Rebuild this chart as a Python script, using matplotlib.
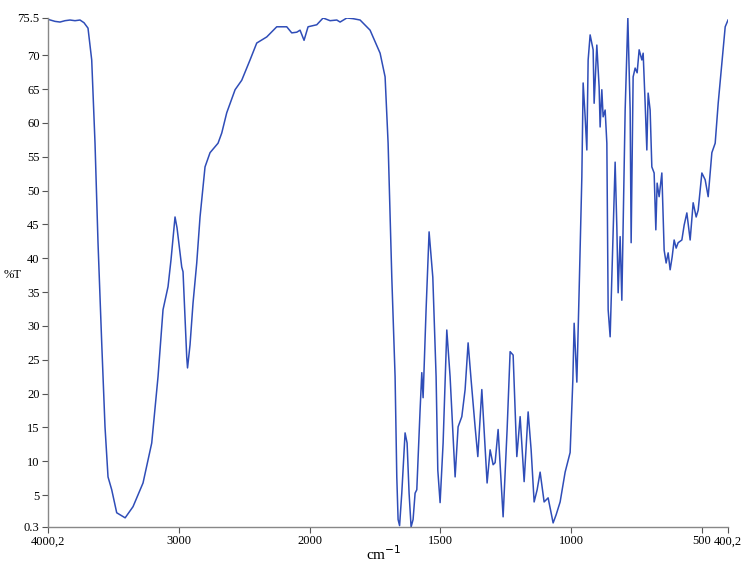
import matplotlib
matplotlib.use("Agg")
import matplotlib.pyplot as plt
import numpy as np

# espectro IR (numero de onda en cm-1, %T)
wavenumber = [4000.2, 3946.7, 3908.4, 3870.2, 3831.9, 3793.7, 3755.5, 3724.9, 3694.3, 3666.0,
              3640.7, 3617.8, 3589.5, 3564.3, 3541.3, 3513.0, 3474.8, 3410.3, 3350.1, 3273.6,
              3207.1, 3158.9, 3120.7, 3082.4, 3059.5, 3028.9, 3013.6, 2977.6, 2967.7, 2939.4,
              2933.3, 2914.2, 2891.2, 2862.9, 2837.7, 2799.5, 2761.2, 2700.0, 2671.7, 2633.5,
              2569.7, 2518.8, 2455.3, 2404.1, 2327.6, 2251.1, 2174.6, 2136.5, 2098.0, 2072.9,
              2042.3, 2011.7, 1972.5, 1948.4, 1921.6, 1896.0, 1883.4, 1857.7, 1833.7, 1806.9,
              1768.7, 1730.4, 1711.3, 1699.8, 1685.7, 1673.1, 1666.6, 1661.6, 1655.9, 1647.5,
              1634.9, 1627.2, 1619.6, 1611.9, 1604.3, 1596.6, 1590.1, 1577.5, 1571.0, 1566.0,
              1554.6, 1543.1, 1528.9, 1516.3, 1509.8, 1501.0, 1489.5, 1475.4, 1462.8, 1443.6,
              1432.2, 1418.0, 1405.4, 1393.9, 1382.4, 1367.2, 1356.8, 1341.5, 1332.7, 1321.3,
              1309.8, 1298.3, 1290.7, 1279.2, 1260.1, 1244.8, 1233.3, 1221.8, 1207.7, 1195.0,
              1179.7, 1164.4, 1153.0, 1141.5, 1130.0, 1118.6, 1103.3, 1088.0, 1068.9, 1057.4,
              1042.1, 1023.0, 1003.9, 993.5, 988.5, 978.2, 969.4, 959.1, 954.1, 946.5,
              940.0, 935.0, 927.4, 915.9, 912.1, 901.8, 893.0, 889.2, 882.7, 877.7,
              870.0, 863.5, 858.5, 850.9, 840.6, 831.8, 825.3, 820.3, 812.7, 806.2,
              793.5, 783.2, 774.4, 770.6, 763.0, 755.3, 747.7, 740.0, 729.7, 724.7,
              717.1, 710.6, 705.6, 698.0, 691.5, 682.7, 676.2, 671.2, 663.6, 653.2,
              644.4, 636.8, 629.1, 621.5, 613.8, 606.2, 598.5, 590.9, 576.7, 567.9,
              557.6, 545.0, 533.5, 522.0, 514.4, 500.2, 487.6, 476.1, 462.0, 449.3,
              437.8, 423.7, 411.0, 400.2]
transmittance = [75.3, 75.0, 74.9, 75.1, 75.2, 75.1, 75.2, 74.8, 74.0, 69.3,
                 57.0, 42.3, 27.5, 15.1, 7.7, 5.8, 2.4, 1.65, 3.3, 6.8,
                 12.7, 22.5, 32.4, 35.8, 39.8, 46.1, 44.5, 38.7, 38.0, 25.4,
                 23.8, 27.2, 33.4, 39.3, 46.1, 53.5, 55.6, 57.0, 58.5, 61.5,
                 64.9, 66.3, 69.3, 71.8, 72.7, 74.2, 74.2, 73.3, 73.4, 73.7,
                 72.2, 74.2, 74.5, 75.5, 75.1, 75.2, 74.9, 75.5, 75.4, 75.2,
                 73.7, 70.3, 66.8, 57.0, 37.2, 22.5, 7.7, 1.4, 0.5, 5.3,
                 14.2, 12.7, 5.3, 0.3, 1.4, 5.3, 5.8, 17.6, 23.1, 19.4,
                 32.4, 43.9, 37.2, 22.5, 8.7, 3.9, 12.7, 29.4, 22.5, 7.7,
                 15.1, 16.6, 20.6, 27.5, 22.0, 15.1, 10.7, 20.6, 14.7, 6.8,
                 11.7, 9.5, 9.8, 14.7, 1.8, 14.7, 26.2, 25.7, 10.7, 16.6,
                 7.0, 17.3, 11.7, 4.0, 5.8, 8.4, 4.0, 4.6, 0.9, 2.1,
                 4.0, 8.4, 11.3, 22.0, 30.4, 21.7, 35.3, 52.0, 65.9, 60.9,
                 56.0, 69.3, 73.0, 70.8, 62.9, 71.5, 65.3, 59.4, 64.9, 60.9,
                 61.9, 57.0, 32.4, 28.4, 42.3, 54.2, 44.6, 34.9, 43.2, 33.8,
                 61.9, 75.5, 61.9, 42.3, 66.8, 68.1, 67.4, 70.8, 69.3, 70.3,
                 62.9, 56.0, 64.4, 61.9, 53.5, 52.6, 44.2, 51.1, 49.1, 52.6,
                 41.2, 39.3, 40.8, 38.3, 40.2, 42.7, 41.5, 42.3, 42.7, 44.9,
                 46.7, 42.7, 48.2, 46.1, 47.1, 52.6, 51.6, 49.1, 55.6, 57.0,
                 62.9, 68.9, 74.2, 75.2]

xticks = [4000.2, 3000, 2000, 1500, 1000, 500, 400.2]
xticklabels = ["4000,2", "3000", "2000", "1500", "1000", "500", "400,2"]
yticks = [0.3, 5, 10, 15, 20, 25, 30, 35, 40, 45, 50, 55, 60, 65, 70, 75.5]
yticklabels = ["0.3", "5", "10", "15", "20", "25", "30", "35", "40", "45",
               "50", "55", "60", "65", "70", "75.5"]


# escala del eje x: por encima de 2000 cm-1 va comprimida a la mitad
def adelante(w):
    w = np.asarray(w, dtype=float)
    return np.where(w <= 2000, w, 2000 + (w - 2000) / 2)


def atras(p):
    p = np.asarray(p, dtype=float)
    return np.where(p <= 2000, p, 2000 + 2 * (p - 2000))


plt.rcParams['font.family'] = ['Liberation Serif', 'DejaVu Serif']

fig = plt.figure(figsize=(7.5, 5.71), dpi=100)
ax = fig.add_axes([0.064, 0.0771, 0.9067, 0.8914])

ax.plot(wavenumber, transmittance, color='#2f4db8', linewidth=1.1)

ax.set_xscale('function', functions=(adelante, atras))
ax.set_xlim(4000.2, 400.2)
ax.set_ylim(0.3, 75.5)

ax.set_xticks(xticks)
ax.set_xticklabels(xticklabels)
ax.set_yticks(yticks)
ax.set_yticklabels(yticklabels)
ax.minorticks_off()
ax.tick_params(axis='both', labelsize=9, length=4, width=0.8, color='#555555', pad=2)

for s in ['top', 'right']:
    ax.spines[s].set_visible(False)
for s in ['left', 'bottom']:
    ax.spines[s].set_color('#888888')
    ax.spines[s].set_linewidth(1.0)

fig.text(0.511, 0.03, "cm$^{-1}$", ha='center', va='center', fontsize=11)
fig.text(0.005, 0.518, "%T", ha='left', va='center', fontsize=9)

fig.savefig("out.png", dpi=100)
